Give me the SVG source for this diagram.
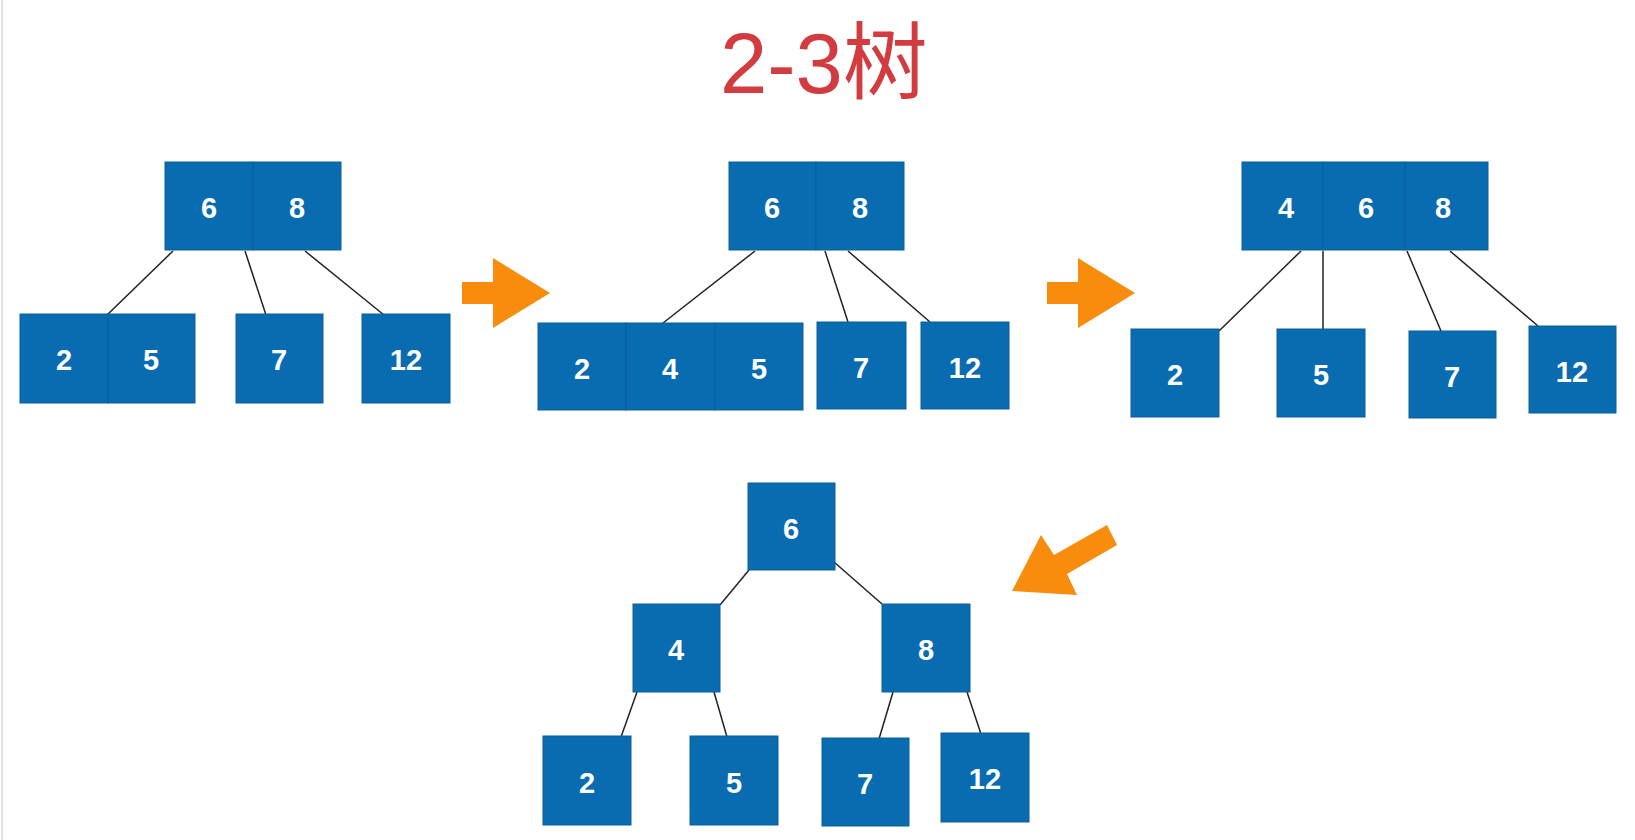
<svg xmlns="http://www.w3.org/2000/svg" width="1635" height="840" viewBox="0 0 1635 840">
<style>
.c{fill:#0a6cb0;stroke:#0b5f9c;stroke-width:1}
.t{fill:#fff;font-family:"Liberation Sans",Arial,sans-serif;font-weight:bold;font-size:29px;text-anchor:middle}
.e{stroke:#222;stroke-width:1.5;fill:none}
.a{fill:#f88c0c}
</style>
<rect width="1635" height="840" fill="#fff"/>
<line x1="2" y1="0" x2="2" y2="840" stroke="#e4e4e4" stroke-width="2"/>
<text x="720" y="93" font-family="'Liberation Sans','Noto Sans CJK SC',sans-serif" font-size="85" fill="#d23c40">2-3树</text>

<g id="connectors">
<line class="e" x1="173" y1="251" x2="107" y2="315"/>
<line class="e" x1="245" y1="251" x2="266" y2="315"/>
<line class="e" x1="305" y1="251" x2="384" y2="315"/>
<line class="e" x1="755" y1="251" x2="663" y2="323"/>
<line class="e" x1="825" y1="251" x2="848" y2="322"/>
<line class="e" x1="848" y1="251" x2="930" y2="322"/>
<line class="e" x1="1301" y1="251" x2="1219" y2="331"/>
<line class="e" x1="1323" y1="251" x2="1323" y2="329"/>
<line class="e" x1="1407" y1="251" x2="1441" y2="331"/>
<line class="e" x1="1450" y1="251" x2="1538" y2="326"/>
<line class="e" x1="749" y1="570" x2="720" y2="605"/>
<line class="e" x1="834" y1="562" x2="882" y2="604"/>
<line class="e" x1="637" y1="692" x2="621" y2="737"/>
<line class="e" x1="714" y1="692" x2="727" y2="737"/>
<line class="e" x1="893" y1="692" x2="879" y2="739"/>
<line class="e" x1="967" y1="692" x2="981" y2="734"/>
</g>

<g id="arrows">
<polygon class="a" points="462,282 493,282 493,258 550,293 493,328 493,304 462,304"/>
<polygon class="a" points="1047,282 1078,282 1078,258 1135,293 1078,328 1078,304 1047,304"/>
<polygon class="a" points="1012,591 1041,535 1054,555 1107,525 1117,545 1067,574 1077,595"/>
</g>

<g id="t1-root"><rect class="c" x="165" y="162" width="88" height="88"/><rect class="c" x="253" y="162" width="88" height="88"/><text class="t" x="209" y="218">6</text><text class="t" x="297" y="218">8</text></g>
<g id="t1-25"><rect class="c" x="20" y="314" width="88" height="89"/><rect class="c" x="108" y="314" width="87" height="89"/><text class="t" x="64" y="370">2</text><text class="t" x="151" y="370">5</text></g>
<g id="t1-7"><rect class="c" x="236" y="314" width="87" height="89"/><text class="t" x="279" y="370">7</text></g>
<g id="t1-12"><rect class="c" x="362" y="314" width="88" height="89"/><text class="t" x="406" y="370">12</text></g>

<g id="t2-root"><rect class="c" x="729" y="162" width="87" height="88"/><rect class="c" x="816" y="162" width="88" height="88"/><text class="t" x="772" y="218">6</text><text class="t" x="860" y="218">8</text></g>
<g id="t2-245"><rect class="c" x="538" y="323" width="88" height="87"/><rect class="c" x="626" y="323" width="89" height="87"/><rect class="c" x="715" y="323" width="88" height="87"/><text class="t" x="582" y="379">2</text><text class="t" x="670" y="379">4</text><text class="t" x="759" y="379">5</text></g>
<g id="t2-7"><rect class="c" x="817" y="322" width="89" height="87"/><text class="t" x="861" y="378">7</text></g>
<g id="t2-12"><rect class="c" x="921" y="322" width="88" height="87"/><text class="t" x="965" y="378">12</text></g>

<g id="t3-root"><rect class="c" x="1242" y="162" width="81" height="88"/><rect class="c" x="1323" y="162" width="82" height="88"/><rect class="c" x="1405" y="162" width="83" height="88"/><text class="t" x="1286" y="218">4</text><text class="t" x="1366" y="218">6</text><text class="t" x="1443" y="218">8</text></g>
<g id="t3-2"><rect class="c" x="1131" y="329" width="88" height="88"/><text class="t" x="1175" y="385">2</text></g>
<g id="t3-5"><rect class="c" x="1277" y="329" width="88" height="88"/><text class="t" x="1321" y="385">5</text></g>
<g id="t3-7"><rect class="c" x="1409" y="331" width="87" height="87"/><text class="t" x="1452" y="387">7</text></g>
<g id="t3-12"><rect class="c" x="1529" y="326" width="87" height="87"/><text class="t" x="1572" y="382">12</text></g>

<g id="t4-6"><rect class="c" x="748" y="483" width="87" height="87"/><text class="t" x="791" y="539">6</text></g>
<g id="t4-4"><rect class="c" x="633" y="604" width="87" height="88"/><text class="t" x="676" y="660">4</text></g>
<g id="t4-8"><rect class="c" x="882" y="604" width="88" height="88"/><text class="t" x="926" y="660">8</text></g>
<g id="t4-2"><rect class="c" x="543" y="736" width="88" height="89"/><text class="t" x="587" y="793">2</text></g>
<g id="t4-5"><rect class="c" x="690" y="736" width="88" height="89"/><text class="t" x="734" y="793">5</text></g>
<g id="t4-7"><rect class="c" x="822" y="738" width="87" height="88"/><text class="t" x="865" y="794">7</text></g>
<g id="t4-12"><rect class="c" x="941" y="733" width="88" height="89"/><text class="t" x="985" y="789">12</text></g>
</svg>
